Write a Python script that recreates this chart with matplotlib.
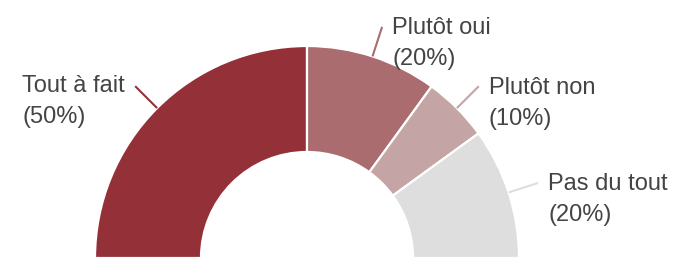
import matplotlib
matplotlib.use("Agg")
import matplotlib.pyplot as plt
import numpy as np

categories = ["Tout à fait", "Plutôt oui", "Plutôt non", "Pas du tout"]
values = [50, 20, 10, 20]
pct_labels = ["(50%)", "(20%)", "(10%)", "(20%)"]
colors = ["#943038", "#aa6c6e", "#c5a4a5", "#dedede"]

plt.rcParams['font.family'] = ['Liberation Sans', 'DejaVu Sans']

W, H = 687, 269
fig = plt.figure(figsize=(W / 100, H / 100), dpi=100)
ax = fig.add_axes([0, 0, 1, 1])
ax.set_xlim(0, W)
ax.set_ylim(0, H)

cx, cy = 307, 11
R = 212
ring = 106
fs = 17
tcol = "#444444"

total = sum(values)
wedges, _ = ax.pie(values + [total], colors=colors + ["white"], startangle=180,
                   counterclock=False, radius=R, center=(cx, cy),
                   wedgeprops=dict(width=ring, edgecolor="white", linewidth=1.6))
wedges[-1].set_visible(False)
ax.set_xlim(0, W)
ax.set_ylim(0, H)
ax.set_aspect("equal")
ax.axis("off")

fig.canvas.draw()
renderer = fig.canvas.get_renderer()

for w, name, pct, col in zip(wedges[:-1], categories, pct_labels, colors):
    mid = np.deg2rad((w.theta1 + w.theta2) / 2)
    x0, y0 = cx + R * np.cos(mid), cy + R * np.sin(mid)
    x1, y1 = cx + (R + 31) * np.cos(mid), cy + (R + 31) * np.sin(mid)
    ax.plot([x0, x1], [y0, y1], color=col, lw=1.5, solid_capstyle="butt")
    if np.cos(mid) < 0:
        t = ax.text(x1 - 10, y1 + 0.5, name, ha="right", va="center", fontsize=fs, color=tcol)
        bb = t.get_window_extent(renderer)
        left = ax.transData.inverted().transform((bb.x0, bb.y0))[0]
        ax.text(left, y1 + 0.5 - 31, pct, ha="left", va="center", fontsize=fs, color=tcol)
    else:
        ax.text(x1 + 10, y1 - 1.5, name, ha="left", va="center", fontsize=fs, color=tcol)
        ax.text(x1 + 10, y1 - 1.5 - 31, pct, ha="left", va="center", fontsize=fs, color=tcol)

fig.savefig("out.png", dpi=100, facecolor="white")
